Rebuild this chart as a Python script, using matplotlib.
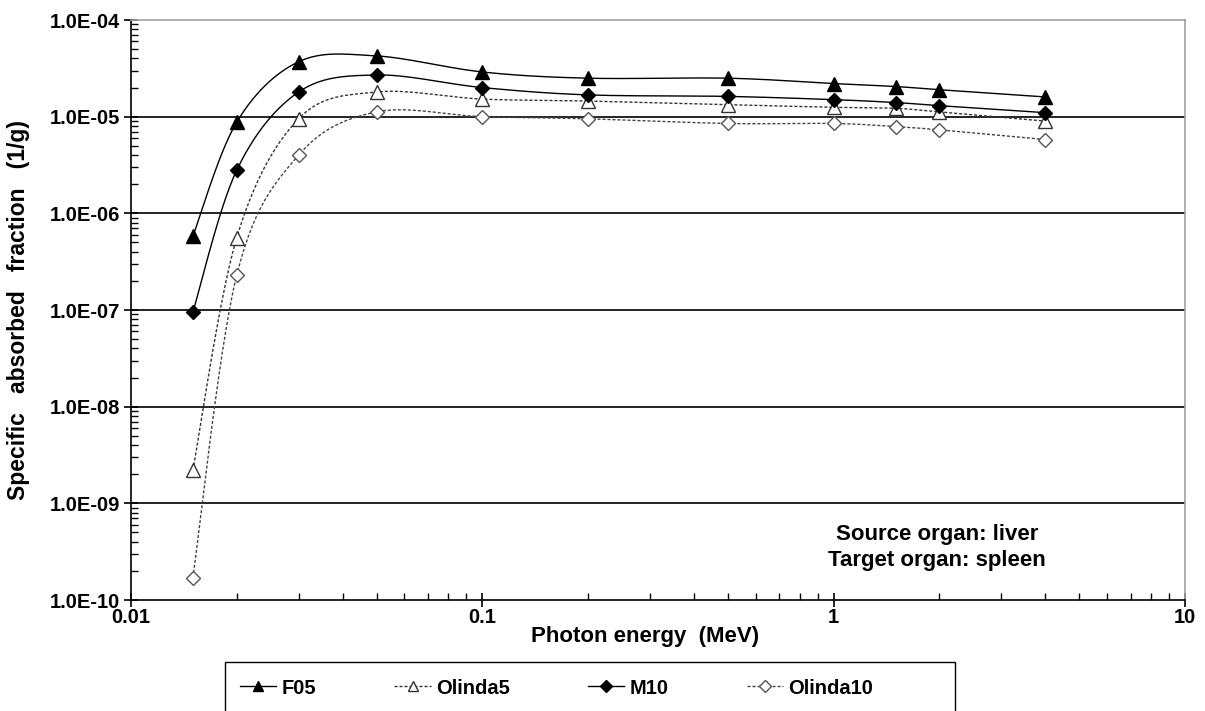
import numpy as np
import matplotlib
matplotlib.use("Agg")
import matplotlib.pyplot as plt
from matplotlib.lines import Line2D
from matplotlib.patches import Rectangle
from matplotlib.ticker import LogLocator, FuncFormatter, NullFormatter

plt.rcParams['font.family'] = ['Liberation Sans', 'DejaVu Sans']
plt.rcParams['font.weight'] = 'bold'

# photon energies (MeV)
energy = [0.015, 0.02, 0.03, 0.05, 0.1, 0.2, 0.5, 1.0, 1.5, 2.0, 4.0]

# specific absorbed fraction (1/g), liver -> spleen
f05 = [5.8e-7, 8.8e-6, 3.7e-5, 4.25e-5, 2.9e-5, 2.5e-5, 2.5e-5, 2.2e-5, 2.05e-5, 1.9e-5, 1.6e-5]
olinda5 = [2.2e-9, 5.6e-7, 9.5e-6, 1.8e-5, 1.52e-5, 1.45e-5, 1.33e-5, 1.25e-5, 1.22e-5, 1.12e-5, 9.0e-6]
m10 = [9.5e-8, 2.8e-6, 1.8e-5, 2.7e-5, 2.0e-5, 1.68e-5, 1.62e-5, 1.5e-5, 1.4e-5, 1.3e-5, 1.1e-5]
olinda10 = [1.7e-10, 2.3e-7, 4.0e-6, 1.12e-5, 1.0e-5, 9.5e-6, 8.5e-6, 8.5e-6, 7.9e-6, 7.3e-6, 5.8e-6]

series_names = ["F05", "Olinda5", "M10", "Olinda10"]


def smooth_curve(x, y, n=30):
    # catmull-rom through points in log-log space (like the excel "smoothed line")
    lx = np.log10(x)
    ly = np.log10(y)
    px = np.concatenate([[lx[0]], lx, [lx[-1]]])
    py = np.concatenate([[ly[0]], ly, [ly[-1]]])
    out_x, out_y = [], []
    t = np.linspace(0, 1, n)
    for i in range(1, len(px) - 2):
        p0x, p1x, p2x, p3x = px[i - 1], px[i], px[i + 1], px[i + 2]
        p0y, p1y, p2y, p3y = py[i - 1], py[i], py[i + 1], py[i + 2]
        c1x = p1x + (p2x - p0x) / 6
        c1y = p1y + (p2y - p0y) / 6
        c2x = p2x - (p3x - p1x) / 6
        c2y = p2y - (p3y - p1y) / 6
        bx = (1 - t) ** 3 * p1x + 3 * (1 - t) ** 2 * t * c1x + 3 * (1 - t) * t ** 2 * c2x + t ** 3 * p2x
        by = (1 - t) ** 3 * p1y + 3 * (1 - t) ** 2 * t * c1y + 3 * (1 - t) * t ** 2 * c2y + t ** 3 * p2y
        out_x.append(bx)
        out_y.append(by)
    return 10 ** np.concatenate(out_x), 10 ** np.concatenate(out_y)


fig = plt.figure(figsize=(12.05, 7.11), dpi=100)
ax = fig.add_axes([131 / 1205, 1 - 600 / 711, 1054 / 1205, 580 / 711])
ax.set_xscale('log')
ax.set_yscale('log')
ax.set_xlim(0.01, 10)
ax.set_ylim(1e-10, 1e-4)

for v in [1e-9, 1e-8, 1e-7, 1e-6, 1e-5]:
    ax.axhline(v, color='black', lw=1.2, zorder=1)

dash = (2.2, 1.4)
styles = {
    "F05": dict(data=f05, ls='-', color='black', marker='^', mfc='black', mec='black', ms=10.5),
    "Olinda5": dict(data=olinda5, ls='--', color='#333333', marker='^', mfc='white', mec='#333333', ms=10.5),
    "M10": dict(data=m10, ls='-', color='black', marker='D', mfc='black', mec='black', ms=7.5),
    "Olinda10": dict(data=olinda10, ls='--', color='#444444', marker='D', mfc='white', mec='#555555', ms=7.5),
}

handles = []
for name in series_names:
    s = styles[name]
    sx, sy = smooth_curve(energy, s["data"])
    ln, = ax.plot(sx, sy, color=s["color"], lw=1.0, ls=s["ls"], zorder=2)
    if s["ls"] == '--':
        ln.set_dashes(dash)
    ax.plot(energy, s["data"], ls='none', marker=s["marker"], mfc=s["mfc"], mec=s["mec"],
            ms=s["ms"], mew=1.0, zorder=3)
    h = Line2D([0], [0], color=s["color"], lw=1.0, ls=s["ls"], marker=s["marker"],
               mfc=s["mfc"], mec=s["mec"], ms=s["ms"] * 0.75, mew=1.0)
    if s["ls"] == '--':
        h.set_dashes(dash)
    handles.append(h)

# spines
for side in ['top', 'right']:
    ax.spines[side].set_color('#a0a0a0')
    ax.spines[side].set_linewidth(1.2)
for side in ['left', 'bottom']:
    ax.spines[side].set_color('black')
    ax.spines[side].set_linewidth(1.2)

ax.yaxis.set_major_locator(LogLocator(base=10, numticks=10))
ax.yaxis.set_minor_locator(LogLocator(base=10, subs=np.arange(2, 10), numticks=20))
ax.xaxis.set_major_locator(LogLocator(base=10, numticks=10))
ax.xaxis.set_minor_locator(LogLocator(base=10, subs=np.arange(2, 10), numticks=20))
ax.yaxis.set_major_formatter(FuncFormatter(lambda v, p: f"{v:.1E}"))
ax.xaxis.set_major_formatter(FuncFormatter(lambda v, p: f"{v:g}"))
ax.xaxis.set_minor_formatter(NullFormatter())
ax.yaxis.set_minor_formatter(NullFormatter())

ax.tick_params(which='major', direction='inout', length=10, width=1.2, labelsize=14.5, pad=3)
ax.tick_params(which='minor', direction='in', length=5, width=1.0)
ax.tick_params(axis='x', which='major', pad=1)
for lab in ax.get_xticklabels() + ax.get_yticklabels():
    lab.set_fontweight('bold')

ax.set_xlabel("Photon energy  (MeV)", fontsize=16, fontweight='bold')
ax.set_ylabel("Specific   absorbed   fraction   (1/g)", fontsize=16.5, fontweight='bold')
ax.xaxis.set_label_coords((645 - 131) / 1054, -(626 - 600) / 580)
ax.yaxis.set_label_coords(-(131 - 30) / 1054, 0.5)

ax.text(0.765, 0.091, "Source organ: liver\nTarget organ: spleen", transform=ax.transAxes,
        ha='center', va='center', fontsize=16, fontweight='bold', linespacing=1.3)

# legend box (clipped at the bottom of the figure, as in the original)
fig.patches.append(Rectangle((225 / 1205, -0.05), 730 / 1205, 0.05 + (711 - 662) / 711,
                             transform=fig.transFigure, fill=False, edgecolor='black', lw=1.0))
leg = fig.legend(handles, series_names, loc='center left', ncol=4,
                 bbox_to_anchor=(240 / 1205, 1 - 688 / 711), frameon=False,
                 fontsize=14.5, handlelength=1.8, handletextpad=0.25,
                 columnspacing=3.9, borderpad=0, borderaxespad=0)
for t in leg.get_texts():
    t.set_fontweight('bold')

fig.savefig("out.png", dpi=100)
